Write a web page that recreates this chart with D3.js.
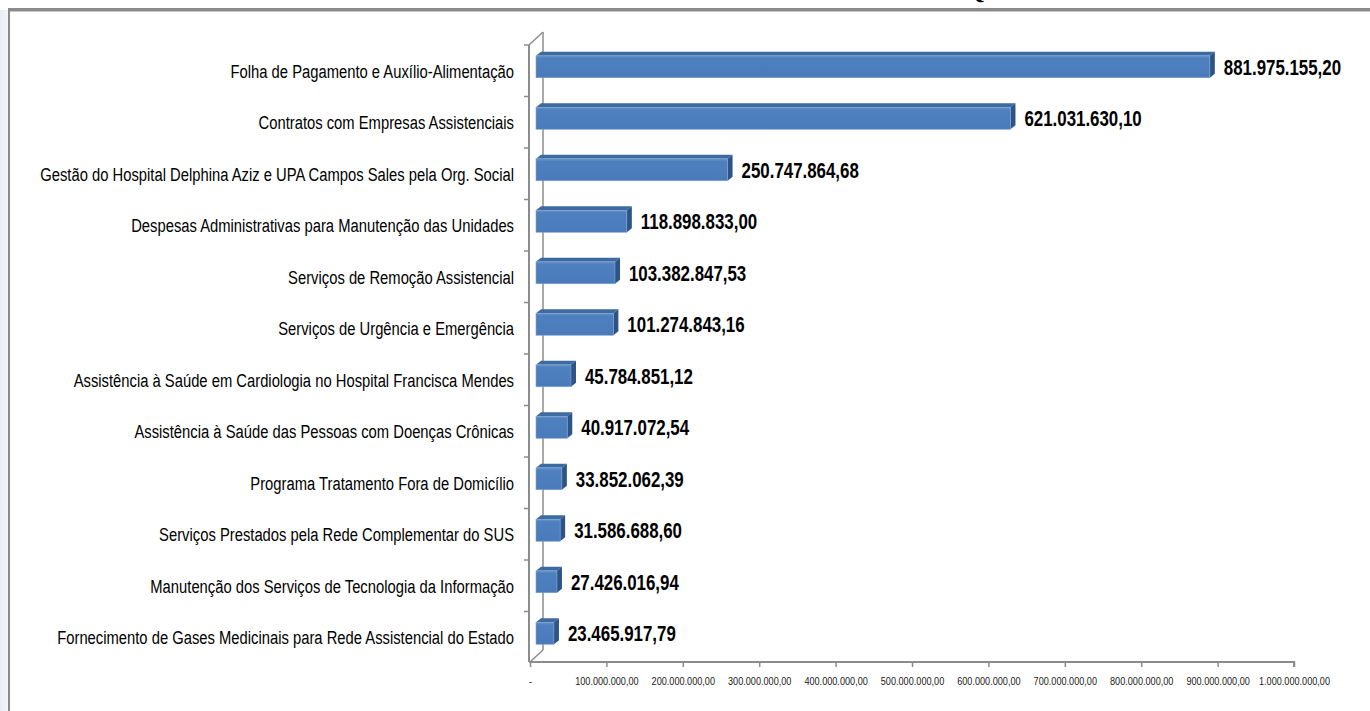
<!DOCTYPE html>
<html><head><meta charset="utf-8">
<script src="https://cdn.jsdelivr.net/npm/d3@7"></script>
<style>
html,body{margin:0;padding:0;background:#fff;overflow:hidden;}
svg{display:block;}
</style></head>
<body>
<svg id="chart" width="1370" height="711"></svg>
<script>
const categories = [
  "Folha de Pagamento e Auxílio-Alimentação",
  "Contratos com Empresas Assistenciais",
  "Gestão do Hospital Delphina Aziz e UPA Campos Sales pela Org. Social",
  "Despesas Administrativas para Manutenção das Unidades",
  "Serviços de Remoção Assistencial",
  "Serviços de Urgência e Emergência",
  "Assistência à Saúde em Cardiologia no Hospital Francisca Mendes",
  "Assistência à Saúde das Pessoas com Doenças Crônicas",
  "Programa Tratamento Fora de Domicílio",
  "Serviços Prestados pela Rede Complementar do SUS",
  "Manutenção dos Serviços de Tecnologia da Informação",
  "Fornecimento de Gases Medicinais para Rede Assistencial do Estado"
];
const values = [881975155.20, 621031630.10, 250747864.68, 118898833.00, 103382847.53,
  101274843.16, 45784851.12, 40917072.54, 33852062.39, 31586688.60, 27426016.94, 23465917.79];
const valueLabels = ["881.975.155,20","621.031.630,10","250.747.864,68","118.898.833,00",
  "103.382.847,53","101.274.843,16","45.784.851,12","40.917.072,54","33.852.062,39",
  "31.586.688,60","27.426.016,94","23.465.917,79"];
const tickValues = [0,100000000,200000000,300000000,400000000,500000000,600000000,700000000,800000000,900000000,1000000000];
const tickLabels = ["-","100.000.000,00","200.000.000,00","300.000.000,00","400.000.000,00","500.000.000,00",
  "600.000.000,00","700.000.000,00","800.000.000,00","900.000.000,00","1.000.000.000,00"];

const svg = d3.select("#chart");

// page background / frame
const defs = svg.append("defs");
const lg = defs.append("linearGradient").attr("id","leftbg").attr("x1",0).attr("x2",1);
lg.append("stop").attr("offset",0).attr("stop-color","#e9eef6");
lg.append("stop").attr("offset",1).attr("stop-color","#f2f5fa");
svg.append("rect").attr("x",0).attr("y",10).attr("width",8).attr("height",701).attr("fill","url(#leftbg)");
svg.append("text").attr("x",966).attr("y",-1).attr("font-family","Liberation Serif").attr("font-weight","bold")
  .attr("font-size",24).attr("fill","#000").text("Q");
svg.append("rect").attr("x",8).attr("y",8).attr("width",1362).attr("height",3).attr("fill","#8a8a8a");
svg.append("rect").attr("x",8).attr("y",11).attr("width",1362).attr("height",1).attr("fill","#c8c8c8");
svg.append("rect").attr("x",8).attr("y",8).attr("width",2).attr("height",703).attr("fill","#8a8a8a");

// scales
const x = d3.scaleLinear().domain([0,1000000000]).range([530,1294]);
const y = d3.scaleBand().domain(categories).range([40,658]).paddingInner(0).paddingOuter(0);
const depthX = 13;
const axisColor = "#8c8c8c";

// back wall line and diagonals
const g = svg.append("g");
g.append("line").attr("x1",x(0)+depthX).attr("x2",x(0)+depthX).attr("y1",y.range()[0]-8).attr("y2",y.range()[1]-8)
  .attr("stroke",axisColor).attr("stroke-width",1.5);
g.append("line").attr("x1",x(0)-1).attr("y1",y.range()[0]+5).attr("x2",x(0)+depthX).attr("y2",y.range()[0]-8)
  .attr("stroke",axisColor).attr("stroke-width",1.5);
g.append("line").attr("x1",x(0)).attr("y1",y.range()[1]+4).attr("x2",x(0)+depthX).attr("y2",y.range()[1]-8)
  .attr("stroke",axisColor).attr("stroke-width",1.5);

// front vertical axis with ticks at category boundaries
const boundaries = categories.map(c => y(c));
g.append("line").attr("x1",x(0)-1).attr("x2",x(0)-1).attr("y1",y.range()[0]+5).attr("y2",y.range()[1]+4)
  .attr("stroke",axisColor).attr("stroke-width",2);
g.selectAll(".ytick").data(boundaries).join("line").attr("class","ytick")
  .attr("x1",x(0)-6).attr("x2",x(0)-1).attr("y1",d=>d+5).attr("y2",d=>d+5)
  .attr("stroke",axisColor).attr("stroke-width",1.5);

// bottom x axis
const xAxis = d3.axisBottom(x).tickValues(tickValues).tickSize(5).tickFormat((d,i)=>tickLabels[i]);
const ax = svg.append("g").attr("transform",`translate(0,${y.range()[1]+4})`).call(xAxis);
ax.select(".domain").attr("stroke",axisColor).attr("stroke-width",2).attr("d",`M${x(0)-1},0H${x(1000000000)}V5`);
ax.selectAll(".tick line").attr("stroke",axisColor).attr("stroke-width",1.5);
ax.selectAll(".tick text").attr("font-family","Liberation Sans").attr("font-size",10.5).attr("fill","#222")
  .attr("dy","1.3em").attr("y",9).attr("transform","scale(0.87,1)");

// bars (3D)
const bx0 = x(0) + 6;
const faceH = 22;
const dx = 5, dy = 4;
const fg = defs.append("linearGradient").attr("id","front").attr("x1",0).attr("x2",0).attr("y1",0).attr("y2",1);
fg.append("stop").attr("offset",0).attr("stop-color","#6a95cb");
fg.append("stop").attr("offset",0.12).attr("stop-color","#4e80bf");
fg.append("stop").attr("offset",1).attr("stop-color","#4a7aba");

const bars = svg.append("g");
categories.forEach((c,i)=>{
  const cy = y(c) + y.bandwidth()/2 + 1;
  const top = cy - faceH/2, bot = cy + faceH/2;
  const x1 = x(values[i]) + 6;
  bars.append("path").attr("d",`M${bx0},${top}L${bx0+dx},${top-dy}L${x1+dx},${top-dy}L${x1},${top}Z`)
    .attr("fill","#3d6a9f");
  bars.append("path").attr("d",`M${x1},${top}L${x1+dx},${top-dy}L${x1+dx},${bot-dy}L${x1},${bot}Z`)
    .attr("fill","#2d5485");
  bars.append("rect").attr("x",bx0).attr("y",top).attr("width",x1-bx0).attr("height",faceH)
    .attr("fill","url(#front)").attr("stroke","#7da3d3").attr("stroke-width",0.6);
});

// value labels
const vl = svg.append("g");
categories.forEach((c,i)=>{
  const cy = y(c) + y.bandwidth()/2 + 1;
  const lx = x(values[i]) + 6 + dx + 9;
  vl.append("text").attr("transform",`translate(${lx},${cy+8}) scale(0.75,1)`)
    .attr("font-family","Liberation Sans").attr("font-weight","bold").attr("font-size",22.5)
    .attr("fill","#000").text(valueLabels[i]);
});

// category labels
const cl = svg.append("g");
const labels = categories.map((c,i)=>{
  const cy = y(c) + y.bandwidth()/2 + 1;
  return cl.append("text").attr("data-y",cy).attr("font-family","Liberation Sans").attr("font-size",19)
    .attr("fill","#000").attr("text-anchor","end").text(c);
});
let maxW = 0;
labels.forEach(t=>{ maxW = Math.max(maxW, t.node().getComputedTextLength()); });
const s = 474 / maxW;
labels.forEach(t=>{
  const cy = +t.attr("data-y");
  t.attr("transform",`translate(514,${cy+11}) scale(${s},1)`);
});
</script>
</body></html>
